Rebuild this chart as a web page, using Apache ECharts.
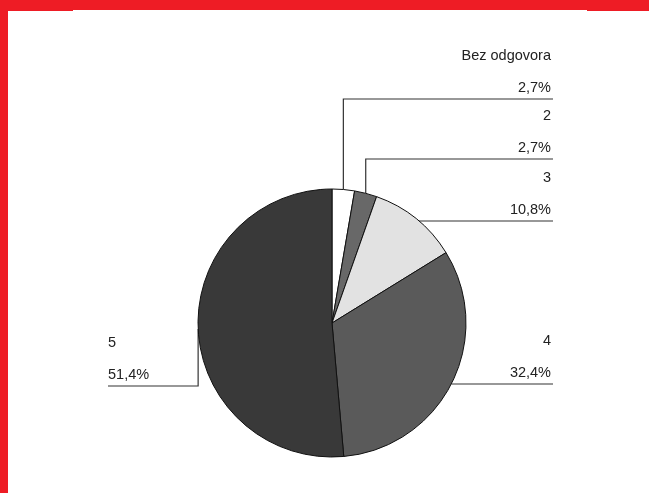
<!DOCTYPE html>
<html>
<head>
<meta charset="utf-8">
<script src="https://cdn.jsdelivr.net/npm/echarts@6/dist/echarts.min.js"></script>
<style>
  html, body { margin: 0; padding: 0; background: #fff; }
  #chart { width: 649px; height: 493px; }
</style>
</head>
<body>
<div id="chart"></div>
<script>
// Survey answers: share of respondents per grade (percent)
const categories = ['Bez odgovora', '2', '3', '4', '5'];
const shares = [2.7, 2.7, 10.8, 32.4, 51.4];
const sliceColors = ['#ffffff', '#686868', '#e2e2e2', '#5a5a5a', '#393939'];

// Pie geometry (pixels)
const CX = 332, CY = 323, R = 134;
// Leader line rows for each label, and where the label column ends
const leaderY = [99, 159, 221, 384, 386];
const RIGHT_X = 553, LEFT_X = 108;

const fmtPct = v => v.toFixed(1).replace('.', ',') + '%';

const chart = echarts.init(document.getElementById('chart'));

chart.setOption({
  animation: false,
  backgroundColor: '#ffffff',
  graphic: [
    { type: 'rect', shape: { x: 0, y: 0, width: 649, height: 10 }, style: { fill: '#ee1c25' }, silent: true },
    { type: 'rect', shape: { x: 0, y: 0, width: 73, height: 11 }, style: { fill: '#ee1c25' }, silent: true },
    { type: 'rect', shape: { x: 587, y: 0, width: 62, height: 11 }, style: { fill: '#ee1c25' }, silent: true },
    { type: 'rect', shape: { x: 0, y: 0, width: 8, height: 493 }, style: { fill: '#ee1c25' }, silent: true }
  ],
  series: [{
    type: 'pie',
    center: [CX, CY],
    radius: R,
    startAngle: 90,
    clockwise: true,
    avoidLabelOverlap: false,
    silent: true,
    data: categories.map((name, i) => ({
      name: name,
      value: shares[i],
      itemStyle: { color: sliceColors[i] }
    })),
    itemStyle: { borderColor: '#111', borderWidth: 1 },
    label: {
      show: true,
      position: 'outside',
      formatter: p => p.name + '\n' + fmtPct(p.value),
      fontFamily: 'Liberation Sans, Arial, sans-serif',
      fontSize: 14.5,
      lineHeight: 32,
      color: '#222'
    },
    labelLine: {
      show: true,
      lineStyle: { color: '#333', width: 1.2 }
    },
    labelLayout: function (p) {
      const i = p.dataIndex;
      const ly = leaderY[i];
      const start = p.labelLinePoints ? p.labelLinePoints[0] : [CX, CY - R];
      let pts;
      if (i === 0 || i === 1) {
        pts = [[start[0], start[1]], [start[0], ly], [RIGHT_X, ly]];
      } else if (i === 2 || i === 3) {
        const xs = CX + Math.sqrt(R * R - (ly - CY) * (ly - CY));
        pts = [[xs, ly], [(xs + RIGHT_X) / 2, ly], [RIGHT_X, ly]];
      } else {
        pts = [[start[0], start[1]], [start[0], ly], [LEFT_X, ly]];
      }
      const left = i === 4;
      return {
        x: left ? LEFT_X : RIGHT_X - 2,
        y: ly + 5,
        align: left ? 'left' : 'right',
        verticalAlign: 'bottom',
        labelLinePoints: pts
      };
    }
  }]
});
</script>
</body>
</html>
